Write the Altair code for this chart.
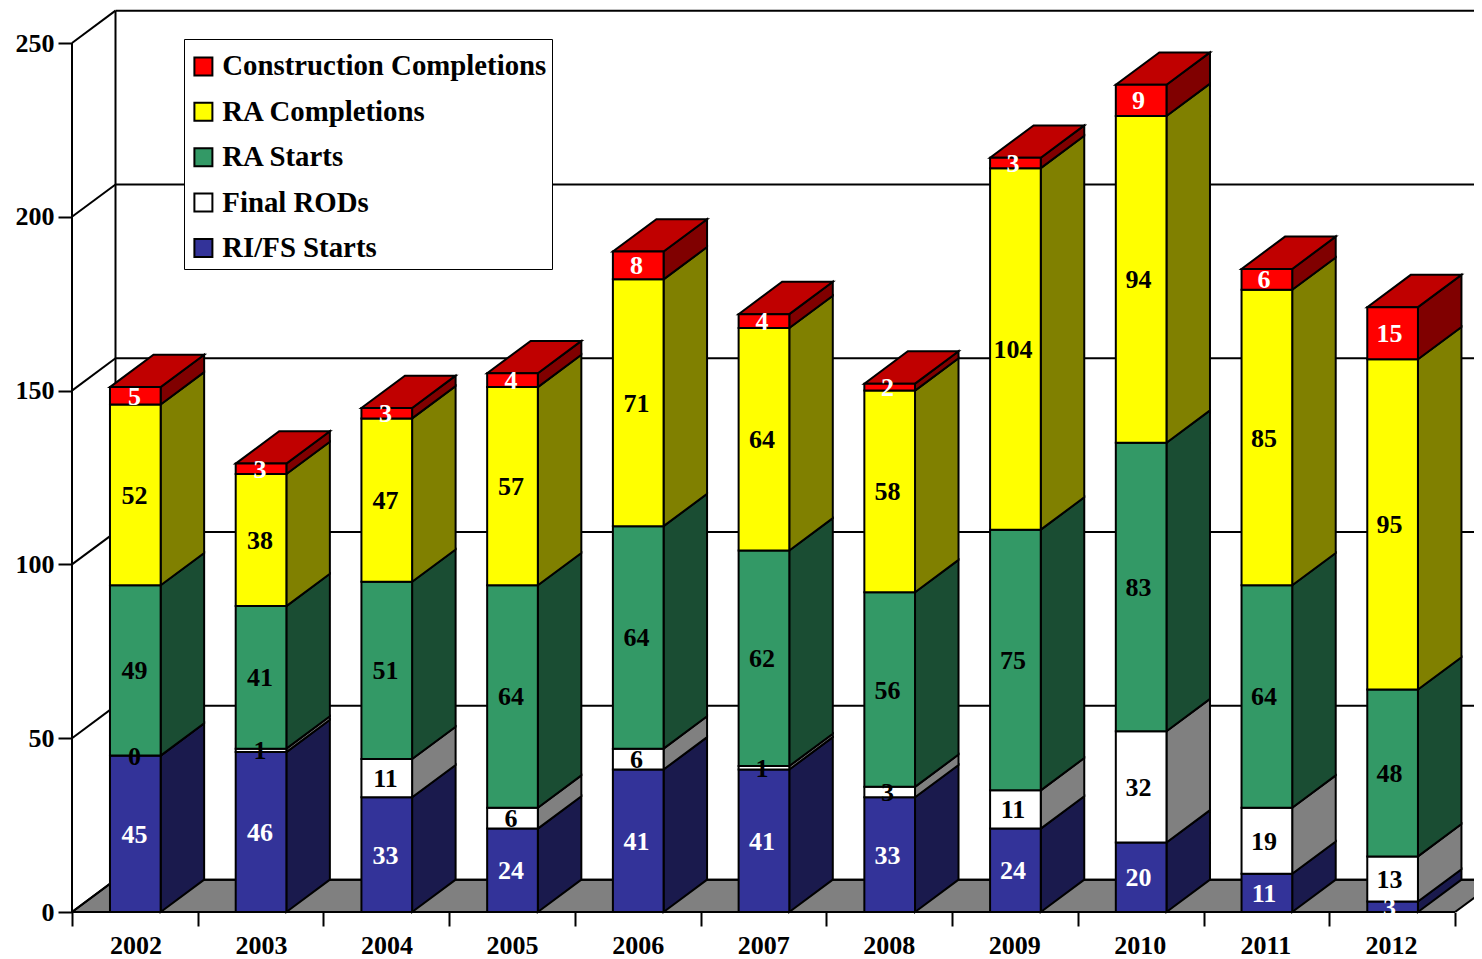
import altair as alt
import pandas as pd

YEARS = ["2002","2003","2004","2005","2006","2007","2008","2009","2010","2011","2012"]
RIFS = [45,46,33,24,41,41,33,24,20,11,3]
RODS = [0,1,11,6,6,1,3,11,32,19,13]
RAS = [49,41,51,64,64,62,56,75,83,64,48]
RAC = [52,38,47,57,71,64,58,104,94,85,95]
CC = [5,3,3,4,8,4,2,3,9,6,15]
SERIES = ["RI/FS Starts","Final RODs","RA Starts","RA Completions","Construction Completions"]
VALUES = [RIFS, RODS, RAS, RAC, CC]
FRONT = ["#333399","#ffffff","#339966","#ffff00","#ff0000"]
SIDE = ["#1a1a4d","#808080","#1a4d33","#808000","#800000"]
TEXTC = ["#ffffff","#000000","#000000","#000000","#ffffff"]
TOPC = "#c00000"
FLOORC = "#808080"
TICKS = [0,50,100,150,200,250]

# layout of the pseudo-3D box, in axis units
L, R, DX, DY = 0.302, 0.705, 0.346, 9.3
XMAX, YMAX = 1402/125.73, 901/3.476
FONT = "Liberation Serif"

front, side, top, labels = [], [], [], []
for i, yr in enumerate(YEARS):
    base = 0
    for s, name in enumerate(SERIES):
        v = VALUES[s][i]
        lo, hi = base, base + v
        base = hi
        front.append(dict(year=yr, series=name, x=i+L, x2=i+R, lo=lo, hi=hi))
        sid = f"{yr}-{s}"
        side.append(dict(id=sid, c=SIDE[s], x=i+R, lo=lo, hi=hi))
        side.append(dict(id=sid, c=SIDE[s], x=i+R+DX, lo=lo+DY, hi=hi+DY))
        labels.append(dict(x=i*0.998+0.498, y=(lo+hi)/2, t=str(v), c=TEXTC[s]))
    a, b = i+L, i+R
    for x, lo, hi in [(a,base,base),(a+DX,base,base+DY),(b,base,base+DY),(b+DX,base+DY,base+DY)]:
        top.append(dict(id=yr, x=x, lo=lo, hi=hi))

xs = alt.Scale(domain=[0, XMAX], nice=False, zero=False)
ys = alt.Scale(domain=[0, YMAX], nice=False, zero=False)
X = lambda f="x": alt.X(f"{f}:Q", scale=xs, title=None)
Y = lambda f="lo": alt.Y(f"{f}:Q", scale=ys, title=None)

x_vals = []
for i in range(11):
    x_vals += [i, i*0.9985+0.505]
x_vals.append(11)
x_axis = alt.Axis(values=x_vals, domain=False, grid=False, orient="bottom",
                  labelExpr=f"datum.value % 1 == 0 ? '' : {YEARS}[floor(datum.value)]",
                  labelFont=FONT, labelFontSize=26, labelFontWeight="bold", labelColor="black",
                  labelPadding=6, labelOverlap=False, labelFlush=False, labelAngle=0,
                  tickSize=14, tickWidth=2, tickColor="black",
                  tickOpacity={"condition": {"test": "datum.value % 1 == 0", "value": 1}, "value": 0})
y_axis = alt.Axis(values=TICKS, domain=False, grid=False,
                  labelFont=FONT, labelFontSize=26, labelFontWeight="bold", labelColor="black",
                  labelPadding=4, tickSize=14, tickWidth=2, tickColor="black", labelOverlap=False)

# floor
floor_df = pd.DataFrame([dict(x=0,lo=0,hi=0),dict(x=DX,lo=0,hi=DY),dict(x=11,lo=0,hi=DY),dict(x=11+DX,lo=DY,hi=DY)])
floor = alt.Chart(floor_df).mark_area(color=FLOORC, stroke="black", strokeWidth=2, clip=True).encode(
    x=alt.X("x:Q", scale=xs, title=None, axis=x_axis),
    y=alt.Y("lo:Q", scale=ys, title=None, axis=y_axis), y2="hi:Q")

grid_df = pd.DataFrame({"t": [t+DY for t in TICKS], "a": [DX]*6, "b": [XMAX]*6})
grid = alt.Chart(grid_df).mark_rule(color="black", strokeWidth=2).encode(x=X("a"), x2="b:Q", y=Y("t"))
diag_df = pd.DataFrame([dict(k=t, x=0, lo=t) for t in TICKS] + [dict(k=t, x=DX, lo=t+DY) for t in TICKS])
diag = alt.Chart(diag_df).mark_line(color="black", strokeWidth=2).encode(x=X(), y=Y(), detail="k:N")
wall_df = pd.DataFrame({"x": [0, DX], "lo": [0, DY], "hi": [250, 250+DY]})
wall = alt.Chart(wall_df).mark_rule(color="black", strokeWidth=2).encode(x=X(), y=Y(), y2="hi:Q")
base_df = pd.DataFrame({"x": [0], "b": [11], "lo": [0]})
baseline = alt.Chart(base_df).mark_rule(color="black", strokeWidth=2).encode(x=X(), x2="b:Q", y=Y())

sides = alt.Chart(pd.DataFrame(side)).mark_area(stroke="black", strokeWidth=2).encode(
    x=X(), y=Y(), y2="hi:Q", detail="id:N", fill=alt.Fill("c:N", scale=None))
tops = alt.Chart(pd.DataFrame(top)).mark_area(color=TOPC, stroke="black", strokeWidth=2).encode(
    x=X(), y=Y(), y2="hi:Q", detail="id:N")
fronts = alt.Chart(pd.DataFrame(front)).mark_rect(stroke="black", strokeWidth=2).encode(
    x=X(), x2="x2:Q", y=Y(), y2="hi:Q",
    fill=alt.Fill("series:N", scale=alt.Scale(domain=SERIES[::-1], range=FRONT[::-1]),
                  legend=alt.Legend(title=" ", titleFontSize=1, titlePadding=6.5, orient="none", legendX=112, legendY=28,
                                    fillColor="white", strokeColor="black", padding=5.5,
                                    symbolType="square", symbolSize=324, symbolStrokeColor="black",
                                    symbolStrokeWidth=2, symbolOpacity=1, symbolOffset=-0.5,
                                    labelFont=FONT, labelFontSize=28.8, labelFontWeight="bold",
                                    labelColor="black", labelLimit=500, labelOffset=4.5,
                                    rowPadding=15.4)))
text = alt.Chart(pd.DataFrame(labels)).mark_text(font=FONT, fontSize=26, fontWeight="bold", baseline="middle", align="center", dy=1).encode(
    x=X(), y=Y("y"), text="t:N", color=alt.Color("c:N", scale=None))

chart = alt.layer(floor, grid, diag, wall, baseline, sides, tops, fronts, text).properties(
    width=1402, height=901, padding={"left": 64, "top": 3, "right": 0, "bottom": 47},
    autosize=alt.AutoSizeParams(type="none"), background="white"
).configure_view(stroke=None)

chart.save("out.html", embed_options={"renderer": "svg", "actions": False})
